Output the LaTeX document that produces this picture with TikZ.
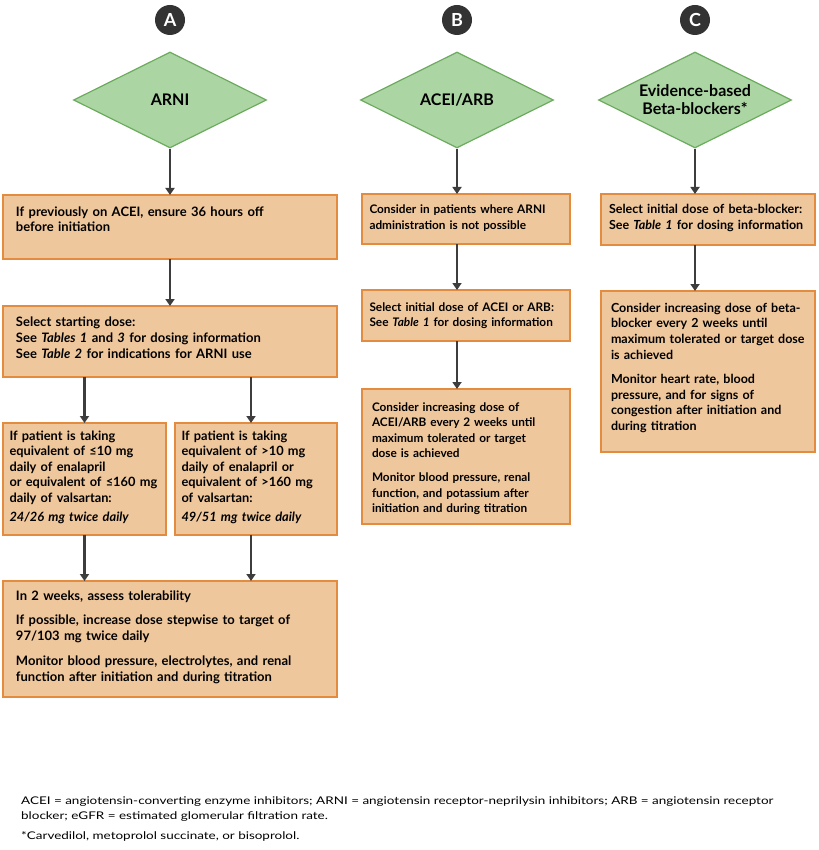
\documentclass[tikz,border=0pt]{standalone}
\usepackage{fontspec}
\setmainfont{Lato}
\newfontfamily\notefont[FakeStretch=1.27]{Lato}
\usetikzlibrary{shapes.geometric,arrows.meta,positioning}

\definecolor{boxfill}{HTML}{EFC79C}
\definecolor{boxline}{HTML}{E38B3E}
\definecolor{dmdfill}{HTML}{ABD6A3}
\definecolor{dmdline}{HTML}{6CAB5E}
\definecolor{arrowgray}{HTML}{3D3D3D}
\definecolor{badgegray}{HTML}{333333}

\tikzset{
  stepbox/.style={draw=boxline, fill=boxfill, line width=1.4pt, outer sep=0pt,
    anchor=north west, inner xsep=9pt, inner ysep=0pt, align=left,
    text height=21pt, font=\bfseries\fontsize{12.5}{15.7}\selectfont},
  colA/.style={font=\bfseries\fontsize{13}{16}\selectfont},
  colB/.style={font=\bfseries\fontsize{11.8}{15.5}\selectfont},
  drug/.style={diamond, aspect=2, draw=dmdline, fill=dmdfill, line width=1.2pt,
    minimum width=193pt, minimum height=96pt, inner sep=0pt, align=center,
    font=\bfseries\fontsize{16}{18}\selectfont},
  badge/.style={circle, fill=badgegray, text=white, minimum size=30pt,
    inner sep=0pt, font=\bfseries\fontsize{18}{18}\selectfont},
  flow/.style={draw=arrowgray, line width=2.6pt,
    -{Triangle[width=9pt,length=7pt]}},
  note/.style={anchor=base west, inner sep=0pt, align=left,
    font=\notefont\fontsize{10.6}{15}\selectfont}
}
\newcommand{\pgap}{\\[8.5pt]}

\begin{document}
\begin{tikzpicture}[x=1pt,y=-1pt]
  \useasboundingbox (0,0) rectangle (818,850);

  % headers
  \node[badge] (bA) at (170,20) {A};
  \node[badge] (bB) at (457,20) {B};
  \node[badge] (bC) at (695,20) {C};
  \node[drug] (dA) at (170,100) {ARNI};
  \node[drug] (dB) at (457,100) {ACEI/ARB};
  \node[drug] (dC) at (695,100) {Evidence-based\\Beta-blockers*};

  % column A
  \node[stepbox, colA, inner xsep=13pt, text width=308pt, text depth=43pt] (a1) at (3,195)
    {If previously on ACEI, ensure 36 hours off\\before initiation};
  \node[stepbox, colA, inner xsep=13pt, text width=308pt, text height=20pt, text depth=51pt] (a2) at (3,306)
    {Select starting dose:\\
     See \textit{Tables 1} and \textit{3} for dosing information\\
     See \textit{Table 2} for indications for ARNI use};
  \node[stepbox, colA, font=\bfseries\fontsize{12.8}{15.5}\selectfont, inner xsep=6.5pt,
        text width=150pt, text height=17pt, text depth=95pt] (a3l) at (3,423)
    {If patient is taking\\equivalent of ≤10 mg\\daily of enalapril\\
     or equivalent of ≤160 mg\\daily of valsartan:\\[3.5pt]\textit{24/26 mg twice daily}};
  \node[stepbox, colA, font=\bfseries\fontsize{12.8}{15.5}\selectfont, inner xsep=6.5pt,
        text width=149pt, text height=17pt, text depth=95pt] (a3r) at (175,423)
    {If patient is taking\\equivalent of >10 mg\\daily of enalapril or\\
     equivalent of >160 mg\\of valsartan:\\[3.5pt]\textit{49/51 mg twice daily}};
  \node[stepbox, colA, inner xsep=13pt, text width=308pt, text height=19pt, text depth=97pt] (a4) at (3,581)
    {In 2 weeks, assess tolerability\pgap
     If possible, increase dose stepwise to target of\\97/103 mg twice daily\pgap
     Monitor blood pressure, electrolytes, and renal\\function after initiation and during titration};

  % column B
  \node[stepbox, colB, inner xsep=7.5pt, text width=193pt, text height=20pt, text depth=30pt] (b1) at (362,194)
    {Consider in patients where ARNI\\administration is not possible};
  \node[stepbox, colB, inner xsep=7.5pt, text width=193pt, text depth=30pt] (b2) at (362,290)
    {Select initial dose of ACEI or ARB:\\See \textit{Table 1} for dosing information};
  \node[stepbox, colB, inner xsep=10pt, text width=188pt, text height=22pt, text depth=113pt] (b3) at (362,389)
    {Consider increasing dose of\\ACEI/ARB every 2 weeks until\\maximum tolerated or target\\dose is achieved\pgap
     Monitor blood pressure, renal\\function, and potassium after\\initiation and during titration};

  % column C
  \node[stepbox, inner xsep=8pt, text width=198pt, text height=20pt, text depth=31pt] (c1) at (601,194)
    {Select initial dose of beta-blocker:\\See \textit{Table 1} for dosing information};
  \node[stepbox, inner xsep=10pt, text width=194pt, text depth=140pt] (c2) at (601,291)
    {Consider increasing dose of beta-\\blocker every 2 weeks until\\maximum tolerated or target dose\\is achieved\pgap
     Monitor heart rate, blood\\pressure, and for signs of\\congestion after initiation and\\during titration};

  % arrows
  \draw[flow] (dA.south) -- (a1.north);
  \draw[flow] (a1.south) -- (a2.north);
  \draw[flow] (a2.south -| a3l.north) -- (a3l.north);
  \draw[flow] ([xshift=-5pt]a2.south -| a3r.north) -- ([xshift=-5pt]a3r.north);
  \draw[flow] (a3l.south) -- (a3l.south |- a4.north);
  \draw[flow] ([xshift=-5pt]a3r.south) -- ([xshift=-5pt]a3r.south |- a4.north);
  \draw[flow] (dB.south) -- (dB.south |- b1.north);
  \draw[flow] (dB.south |- b1.south) -- (dB.south |- b2.north);
  \draw[flow] (dB.south |- b2.south) -- (dB.south |- b3.north);
  \draw[flow] (dC.south) -- (dC.south |- c1.north);
  \draw[flow] (dC.south |- c1.south) -- (dC.south |- c2.north);

  % footnotes
  \node[note] (abbr) at (21,819)
    {ACEI = angiotensin-converting enzyme inhibitors; ARNI = angiotensin receptor-neprilysin inhibitors; ARB = angiotensin receptor\\
     blocker; eGFR = estimated glomerular filtration rate.};
  \node[note] (star) at (21,839) {*Carvedilol, metoprolol succinate, or bisoprolol.};
\end{tikzpicture}
\end{document}
